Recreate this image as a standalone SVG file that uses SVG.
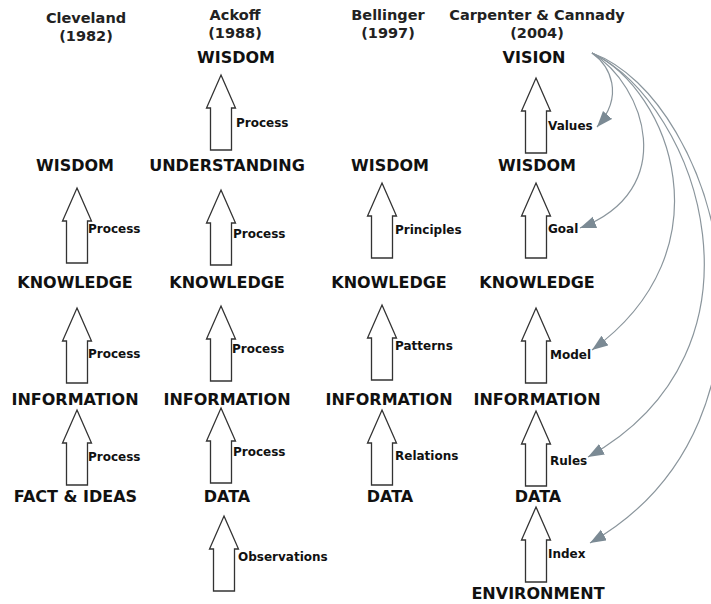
<svg xmlns="http://www.w3.org/2000/svg" xmlns:xlink="http://www.w3.org/1999/xlink" width="711" height="604" viewBox="0 0 711 604">
  <style>
    .hdr { font-family: "DejaVu Sans", Verdana, sans-serif; font-weight: bold; font-size: 14.5px; fill: #222; text-anchor: middle; }
    .lvl { font-family: "DejaVu Sans", Verdana, sans-serif; font-weight: bold; font-size: 16px; fill: #111; text-anchor: middle; }
    .lbl { font-family: "DejaVu Sans", Verdana, sans-serif; font-weight: bold; font-size: 12px; fill: #111; }
    .blk { fill: #fff; stroke: #333; stroke-width: 1.3; stroke-linejoin: miter; }
    .crv { fill: none; stroke: #8a959c; stroke-width: 1.2; marker-end: url(#tri); }
  </style>
  <defs>
    <!-- hollow block arrow, tip at origin, 75 tall -->
    <path id="up" class="blk" d="M0,0 L14.5,33 L10.5,33 L10.5,75 L-10.5,75 L-10.5,33 L-14.5,33 Z"/>
    <marker id="tri" markerUnits="userSpaceOnUse" markerWidth="18" markerHeight="13" refX="16" refY="6" orient="auto">
      <path d="M0,0 L16,6 L0,12 Z" fill="#7b8a94"/>
    </marker>
  </defs>
  <rect width="711" height="604" fill="#fff"/>

  <!-- column headings -->
  <g id="headings">
    <text class="hdr" x="86" y="23">Cleveland</text>
    <text class="hdr" x="86" y="41">(1982)</text>
    <text class="hdr" x="235" y="20">Ackoff</text>
    <text class="hdr" x="235" y="38">(1988)</text>
    <text class="hdr" x="388" y="20">Bellinger</text>
    <text class="hdr" x="388" y="38">(1997)</text>
    <text class="hdr" x="537" y="20">Carpenter &amp; Cannady</text>
    <text class="hdr" x="537" y="38">(2004)</text>
  </g>

  <!-- Cleveland -->
  <g id="cl-wisdom"><text class="lvl" x="75" y="171">WISDOM</text></g>
  <g id="cl-knowledge"><text class="lvl" x="75" y="288">KNOWLEDGE</text></g>
  <g id="cl-information"><text class="lvl" x="75" y="405">INFORMATION</text></g>
  <g id="cl-facts"><text class="lvl" x="75.5" y="502">FACT &amp; IDEAS</text></g>

  <!-- Ackoff -->
  <g id="ak-wisdom"><text class="lvl" x="236" y="63">WISDOM</text></g>
  <g id="ak-understanding"><text class="lvl" x="227" y="171">UNDERSTANDING</text></g>
  <g id="ak-knowledge"><text class="lvl" x="227" y="288">KNOWLEDGE</text></g>
  <g id="ak-information"><text class="lvl" x="227" y="405">INFORMATION</text></g>
  <g id="ak-data"><text class="lvl" x="227" y="502">DATA</text></g>

  <!-- Bellinger -->
  <g id="be-wisdom"><text class="lvl" x="390" y="171">WISDOM</text></g>
  <g id="be-knowledge"><text class="lvl" x="389" y="288">KNOWLEDGE</text></g>
  <g id="be-information"><text class="lvl" x="389" y="405">INFORMATION</text></g>
  <g id="be-data"><text class="lvl" x="390" y="502">DATA</text></g>

  <!-- Carpenter & Cannady -->
  <g id="cc-vision"><text class="lvl" x="534" y="63">VISION</text></g>
  <g id="cc-wisdom"><text class="lvl" x="537" y="171">WISDOM</text></g>
  <g id="cc-knowledge"><text class="lvl" x="537" y="288">KNOWLEDGE</text></g>
  <g id="cc-information"><text class="lvl" x="537" y="405">INFORMATION</text></g>
  <g id="cc-data"><text class="lvl" x="538" y="502">DATA</text></g>
  <g id="cc-environment"><text class="lvl" x="538" y="599">ENVIRONMENT</text></g>

  <!-- block arrows between levels, with their labels -->
  <g id="connectors">
    <use xlink:href="#up" href="#up" x="77" y="188"/>
    <use xlink:href="#up" href="#up" x="77" y="308"/>
    <use xlink:href="#up" href="#up" x="77" y="410"/>
    <text class="lbl" x="88" y="233">Process</text>
    <text class="lbl" x="88" y="358">Process</text>
    <text class="lbl" x="88" y="461">Process</text>

    <use xlink:href="#up" href="#up" x="221" y="75"/>
    <use xlink:href="#up" href="#up" x="221" y="190"/>
    <use xlink:href="#up" href="#up" x="221" y="306"/>
    <use xlink:href="#up" href="#up" x="221" y="408"/>
    <use xlink:href="#up" href="#up" x="224" y="516"/>
    <text class="lbl" x="236" y="127">Process</text>
    <text class="lbl" x="233" y="238">Process</text>
    <text class="lbl" x="232" y="353">Process</text>
    <text class="lbl" x="233" y="456">Process</text>
    <text class="lbl" x="238" y="561">Observations</text>

    <use xlink:href="#up" href="#up" x="382" y="183"/>
    <use xlink:href="#up" href="#up" x="382" y="305"/>
    <use xlink:href="#up" href="#up" x="382" y="410"/>
    <text class="lbl" x="395" y="234">Principles</text>
    <text class="lbl" x="395" y="350">Patterns</text>
    <text class="lbl" x="395" y="460">Relations</text>

    <use xlink:href="#up" href="#up" x="536" y="78"/>
    <use xlink:href="#up" href="#up" x="536" y="183"/>
    <use xlink:href="#up" href="#up" x="536" y="308"/>
    <use xlink:href="#up" href="#up" x="536" y="411"/>
    <use xlink:href="#up" href="#up" x="536" y="507"/>
    <text class="lbl" x="548" y="130">Values</text>
    <text class="lbl" x="548" y="233">Goal</text>
    <text class="lbl" x="550" y="359">Model</text>
    <text class="lbl" x="550" y="465">Rules</text>
    <text class="lbl" x="548" y="558">Index</text>

    <!-- curved links from VISION to each label -->
    <path class="crv" d="M592,53 C610,66 625,95 597,127"/>
    <path class="crv" d="M592,53 C645,85 680,190 580,228"/>
    <path class="crv" d="M592,53 C670,90 730,250 592,350"/>
    <path class="crv" d="M592,53 C700,105 780,350 588,457"/>
    <path class="crv" d="M592,53 C720,100 805,420 590,543"/>
  </g>
</svg>
